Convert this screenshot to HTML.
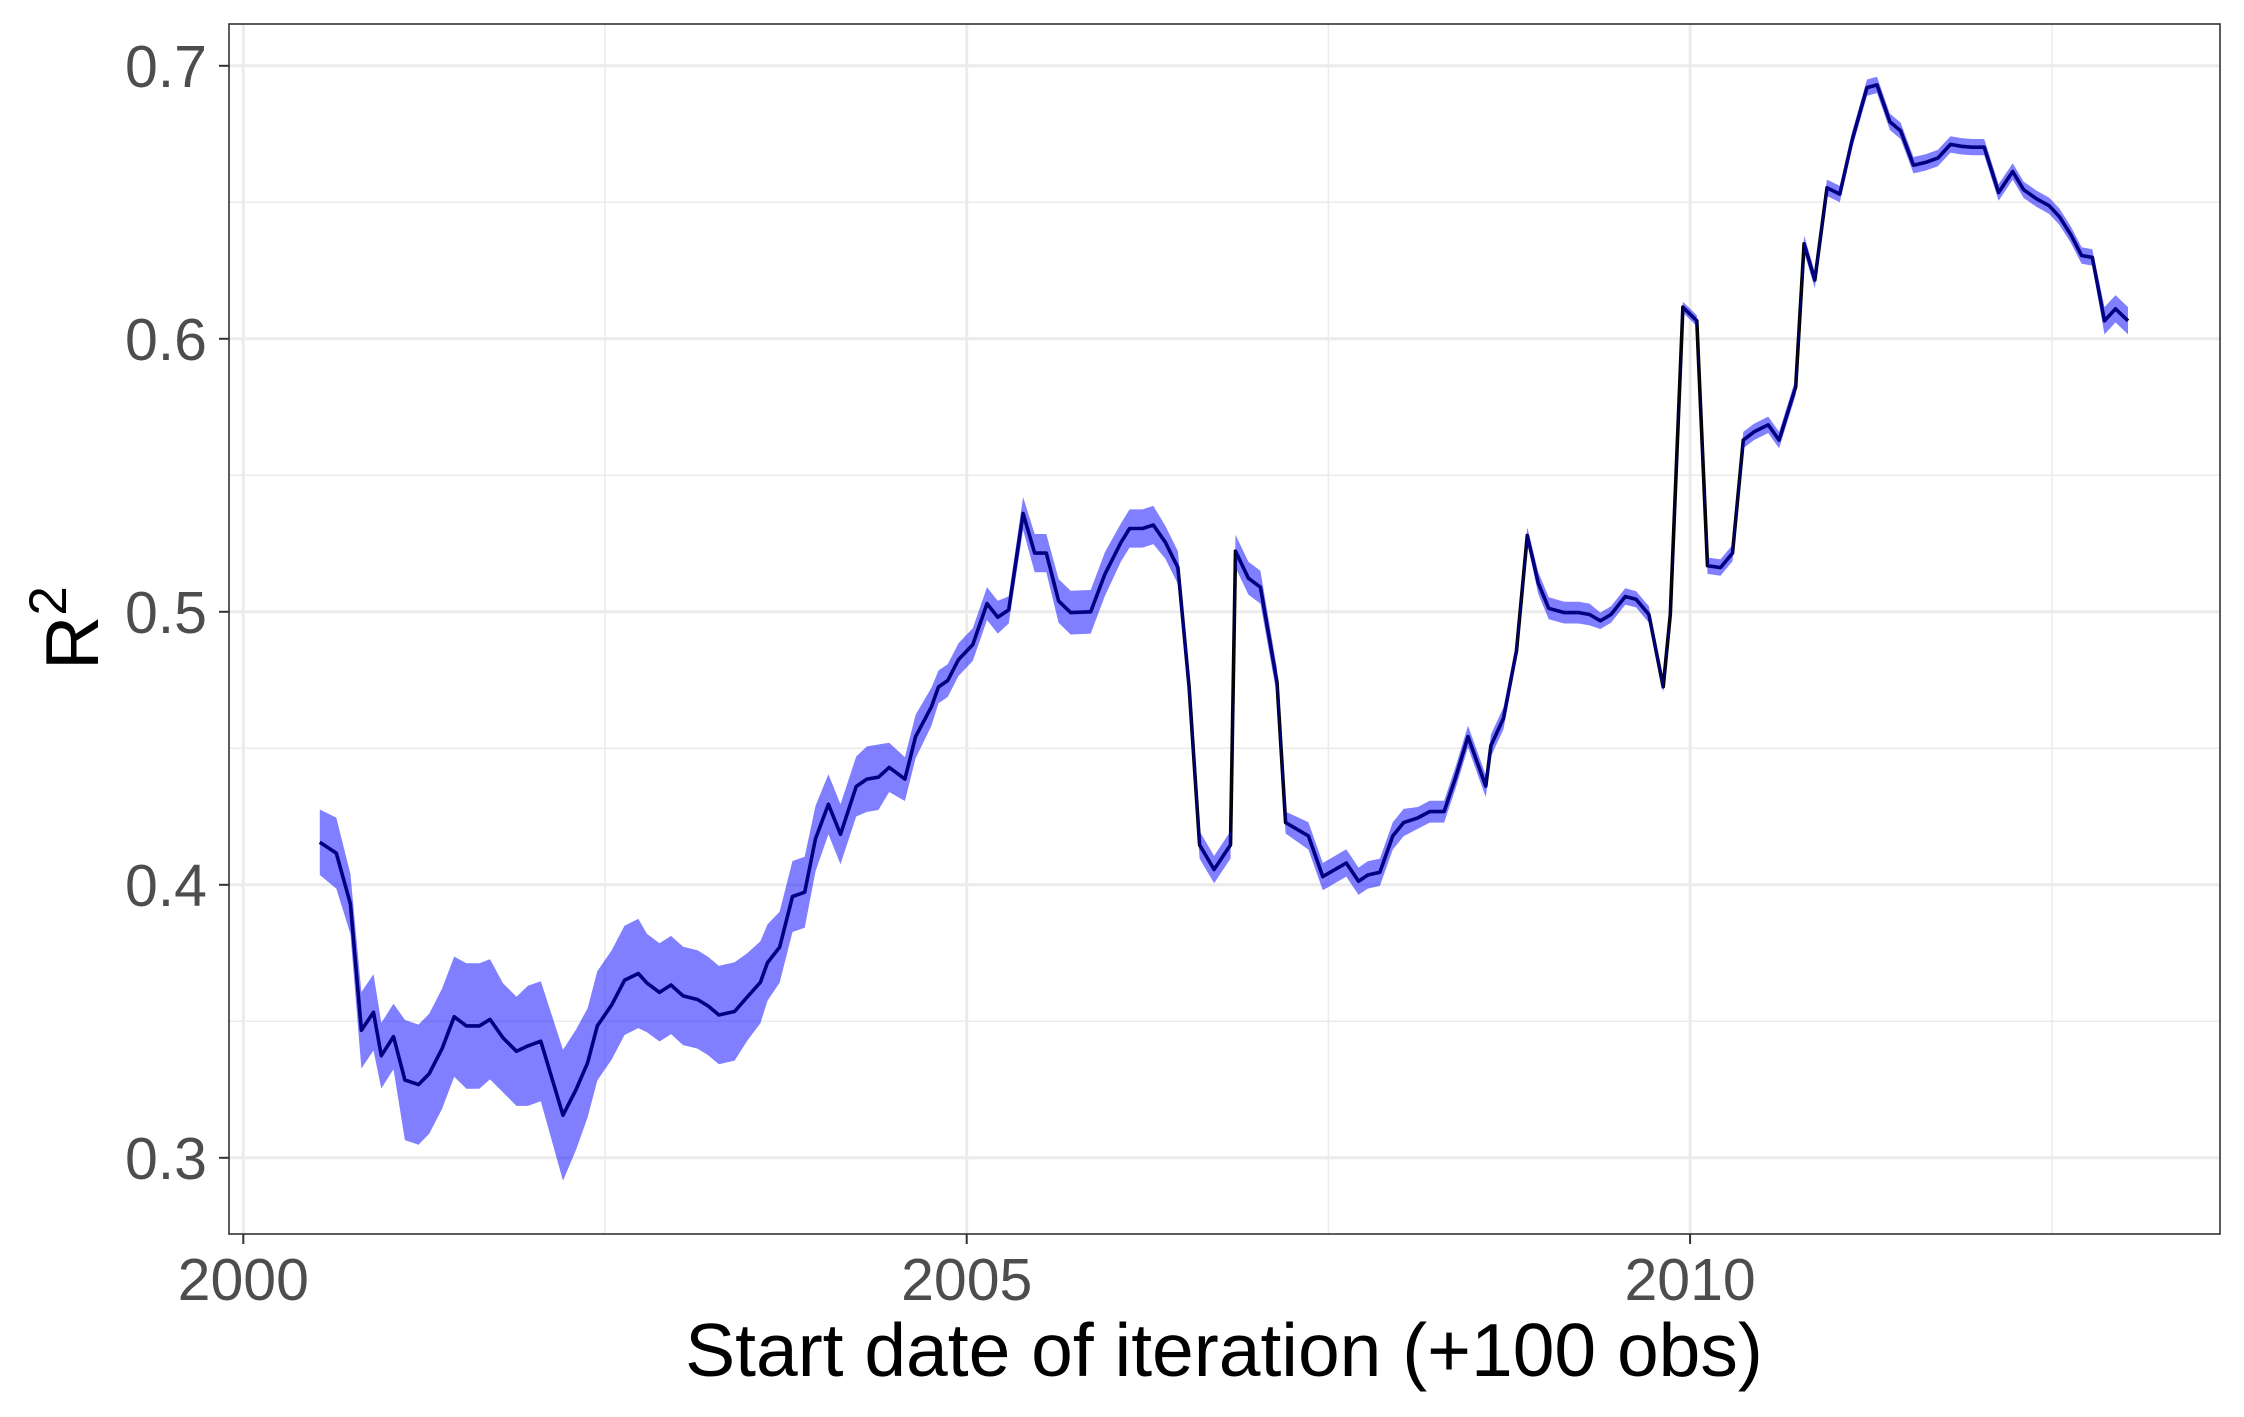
<!DOCTYPE html>
<html><head><meta charset="utf-8"><style>
html,body{margin:0;padding:0;background:#fff;}
svg{display:block;font-family:"Liberation Sans",Arial,sans-serif;}
</style></head><body>
<svg id="chart" width="2244" height="1417" viewBox="0 0 2244 1417" xmlns="http://www.w3.org/2000/svg">
<rect x="0" y="0" width="2244" height="1417" fill="#fff"/>
<g id="grid"></g>
<g id="marks"></g>
<rect x="229" y="24" width="1991" height="1210" fill="none" stroke="#333" stroke-width="1.6"/>
<g id="axes"></g>
<text x="1224" y="1376" font-size="75" text-anchor="middle" fill="#000">Start date of iteration (+100 obs)</text>
<text transform="translate(98,628) rotate(-90)" font-size="75" text-anchor="middle" fill="#000">R<tspan dy="-32" font-size="53">2</tspan></text>
</svg>
<script>
const xTicks = [2000, 2005, 2010];
const xMinor = [2002.5, 2007.5, 2012.5];
const yTicks = [0.3, 0.4, 0.5, 0.6, 0.7];
const yMinor = [0.35, 0.45, 0.55, 0.65];
const dates = [2000.529,2000.643,2000.74,2000.816,2000.90,2000.954,2001.038,2001.117,2001.211,2001.285,
2001.374,2001.458,2001.542,2001.631,2001.705,2001.794,2001.888,2001.967,2002.056,2002.21,
2002.30,2002.38,2002.447,2002.546,2002.635,2002.73,2002.79,2002.877,2002.956,2003.04,
2003.139,2003.213,2003.287,2003.396,2003.485,2003.574,2003.623,2003.707,2003.796,2003.88,
2003.955,2004.044,2004.128,2004.236,2004.31,2004.39,2004.464,2004.573,2004.647,2004.756,
2004.805,2004.869,2004.943,2005.042,2005.14,2005.215,2005.29,2005.39,2005.47,2005.55,
2005.635,2005.718,2005.857,2005.956,
2006.067,2006.126,2006.215,2006.29,2006.373,2006.46,2006.537,2006.61,2006.71,2006.823,
2006.858,2006.947,2007.03,2007.145,2007.204,2007.362,2007.461,2007.624,2007.708,2007.772,
2007.856,2007.945,2008.02,2008.118,2008.2,2008.3,2008.38,2008.465,2008.588,2008.623,
2008.71,2008.80,2008.875,2008.95,2009.023,2009.13,2009.23,2009.305,2009.38,2009.453,
2009.552,2009.626,2009.715,2009.814,2009.863,2009.95,2010.046,2010.12,2010.21,2010.293,
2010.368,2010.442,2010.54,2010.615,2010.73,2010.788,2010.862,2010.946,2011.035,2011.12,
2011.223,2011.292,2011.381,2011.455,2011.544,2011.628,2011.712,2011.8,2011.875,2011.95,
2012.033,2012.132,2012.23,2012.305,2012.394,2012.483,2012.553,2012.632,2012.706,2012.78,
2012.864,2012.94,2013.027];
const r2 = [0.4156,0.4116,0.393,0.3467,0.3533,0.3374,0.3444,0.3285,0.3268,0.3308,
0.34,0.3517,0.3483,0.3483,0.3507,0.344,0.339,0.341,0.3427,0.3156,
0.325,0.3348,0.3483,0.356,0.365,0.3675,0.364,0.3606,0.3633,0.3593,
0.358,0.3556,0.3523,0.3536,0.359,0.3643,0.3715,0.3771,0.3957,0.3973,
0.4169,0.4295,0.4185,0.436,0.4387,0.4394,0.443,0.4387,0.4543,0.4652,
0.4725,0.4748,0.4825,0.488,0.503,0.498,0.5007,0.536,0.5215,0.5215,
0.504,0.4997,0.5,0.5139,
0.5255,0.5305,0.5305,0.5318,0.5255,0.5162,0.4725,0.4146,0.4056,0.4146,
0.5222,0.5123,0.509,0.4742,0.4228,0.4179,0.403,0.408,0.4013,0.4036,
0.4046,0.4179,0.4228,0.4245,0.4268,0.4268,0.4394,0.4543,0.4361,0.451,
0.461,0.4858,0.528,0.5106,0.5013,0.4997,0.4997,0.499,0.4967,0.499,
0.5056,0.5046,0.499,0.4725,0.499,0.6116,0.6066,0.5169,0.5162,0.5215,
0.5629,0.5659,0.5685,0.5629,0.5824,0.6348,0.6215,0.6553,0.653,0.6728,
0.692,0.693,0.6795,0.6762,0.6636,0.6646,0.6662,0.6712,0.6705,0.6702,
0.6702,0.6536,0.6613,0.6546,0.6513,0.6487,0.6447,0.6381,0.6305,0.6298,
0.6066,0.611,0.6066];
const err = [.012,.013,.011,.014,.014,.012,.012,.022,.022,.022,
.022,.022,.023,.023,.022,.02,.02,.022,.022,.024,
.022,.02,.02,.02,.02,.02,.018,.018,.018,.018,
.018,.018,.018,.018,.016,.015,.014,.013,.013,.013,
.012,.011,.011,.011,.012,.012,.009,.008,.008,.007,
.006,.006,.006,.006,.006,.006,.005,.006,.007,.007,
.008,.008,.008,.008,
.007,.007,.007,.007,.006,.006,.006,.005,.005,.005,
.006,.006,.006,.005,.004,.005,.005,.005,.005,.005,
.005,.005,.005,.004,.004,.004,.004,.004,.004,.004,
.004,.003,.003,.004,.004,.004,.004,.004,.003,.003,
.003,.003,.003,.002,.002,.002,.002,.003,.003,.003,
.003,.003,.003,.003,.003,.003,.003,.003,.003,.003,
.003,.003,.003,.003,.003,.003,.003,.003,.003,.003,
.003,.003,.003,.003,.003,.003,.003,.003,.003,.003,
.005,.005,.005];

const NS = "http://www.w3.org/2000/svg";
const PL = 229, PR = 2220, PT = 24, PB = 1234;
function xs(v){ return 243.3 + (v - 2000) * 144.68; }
function ys(v){ return 1157.8 - (v - 0.3) * 2730; }
function mk(tag, attrs, parent){
  const e = document.createElementNS(NS, tag);
  for (const k in attrs) e.setAttribute(k, attrs[k]);
  parent.appendChild(e);
  return e;
}
const grid = document.getElementById('grid');
const marks = document.getElementById('marks');
const axes = document.getElementById('axes');

yMinor.forEach(v => {
  const l = mk('line', {x1:PL, x2:PR, y1:ys(v), y2:ys(v), stroke:'#ebebeb', 'stroke-width':1.5}, grid);
  
  
});
xMinor.forEach(v => {
  const l = mk('line', {x1:xs(v), x2:xs(v), y1:PT, y2:PB, stroke:'#ebebeb', 'stroke-width':1.5}, grid);
  
  
});
yTicks.forEach(v => {
  const l = mk('line', {x1:PL, x2:PR, y1:ys(v), y2:ys(v), stroke:'#ebebeb', 'stroke-width':3}, grid);
  
  
  const t = mk('line', {x1:PL-10, x2:PL, y1:ys(v), y2:ys(v), stroke:'#333', 'stroke-width':2}, axes);
  
  
  const tx = mk('text', {x:PL-22, y:ys(v)+21, 'font-size':59, fill:'#4d4d4d', 'text-anchor':'end'}, axes);
  tx.textContent = v.toFixed(1);
  
  
});
xTicks.forEach(v => {
  const l = mk('line', {x1:xs(v), x2:xs(v), y1:PT, y2:PB, stroke:'#ebebeb', 'stroke-width':3}, grid);
  
  
  const t = mk('line', {x1:xs(v), x2:xs(v), y1:PB, y2:PB+10, stroke:'#333', 'stroke-width':2}, axes);
  
  
  const tx = mk('text', {x:xs(v), y:PB+66, 'font-size':59, fill:'#4d4d4d', 'text-anchor':'middle'}, axes);
  tx.textContent = String(v);
  
  
});

const linePts = dates.map((d,i) => xs(d).toFixed(1) + ',' + ys(r2[i]).toFixed(1)).join(' ');
const line = mk('polyline', {points:linePts, fill:'none', stroke:'#000', 'stroke-width':3.6, 'stroke-linejoin':'round'}, marks);



const up = dates.map((d,i) => xs(d).toFixed(1) + ',' + ys(r2[i] + err[i]).toFixed(1));
const lo = dates.map((d,i) => xs(d).toFixed(1) + ',' + ys(r2[i] - err[i]).toFixed(1)).reverse();
const band = mk('polygon', {points:up.concat(lo).join(' '), fill:'rgba(0,0,255,0.5)', stroke:'none'}, marks);


</script>
</body></html>
